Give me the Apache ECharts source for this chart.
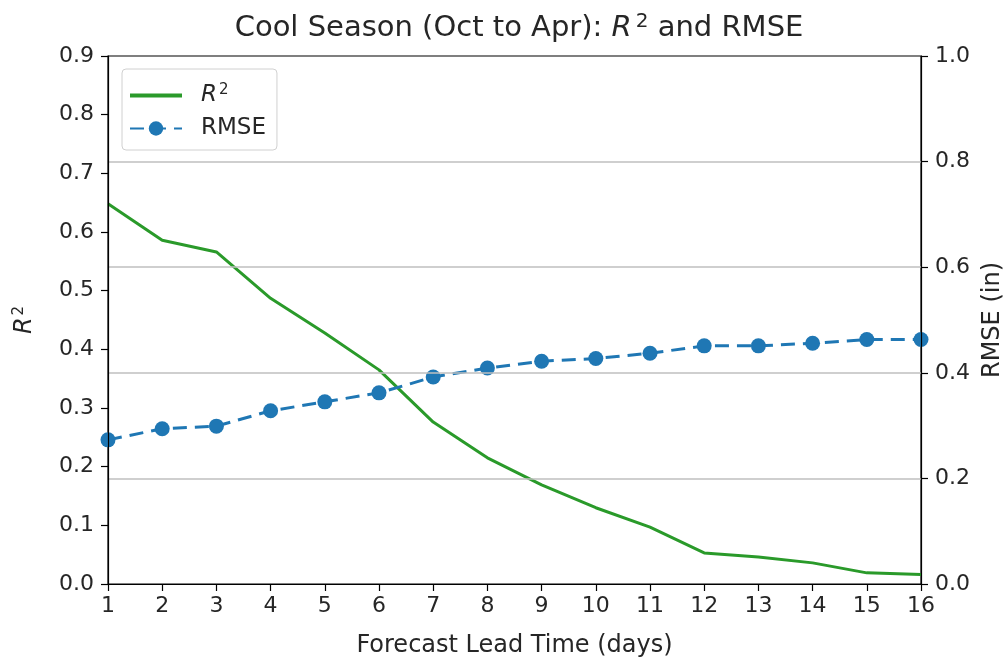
<!DOCTYPE html>
<html>
<head>
<meta charset="utf-8">
<script src="https://cdn.jsdelivr.net/npm/echarts@6/dist/echarts.min.js"></script>
<style>
  html, body { margin: 0; padding: 0; background: #fff; }
  #chart { width: 1005px; height: 660px; }
</style>
</head>
<body>
<div id="chart"></div>
<script>
// lead time in days
const leadDays = [1, 2, 3, 4, 5, 6, 7, 8, 9, 10, 11, 12, 13, 14, 15, 16];
// R^2 per lead day (left axis)
const r2Values = [0.648, 0.586, 0.566, 0.487, 0.428, 0.365, 0.276, 0.215, 0.169, 0.130, 0.097, 0.053, 0.046, 0.036, 0.019, 0.016];
// RMSE in inches per lead day (right axis)
const rmseValues = [0.273, 0.294, 0.299, 0.328, 0.345, 0.362, 0.392, 0.409, 0.422, 0.427, 0.437, 0.451, 0.451, 0.456, 0.463, 0.463];

const font = 'DejaVu Sans';
const axisColor = '#000';
const textColor = '#262626';
const tickSize = 22;
const labelSize = 24;

const chart = echarts.init(document.getElementById('chart'));

const pairs = (ys) => leadDays.map((d, i) => [d, ys[i]]);

const spine = { show: true, lineStyle: { color: axisColor, width: 1.2 } };
const ticks = { show: true, length: 7, lineStyle: { color: axisColor, width: 1.2 } };

chart.setOption({
	animation: false,
	textStyle: { fontFamily: font },
	title: {
		left: 514,
		top: 7,
		textAlign: 'center',
		text: '{a|Cool Season (Oct to Apr): }{i|R}{s|2}{a| and RMSE}',
		textStyle: {
			fontWeight: 'normal',
			rich: {
				a: { fontFamily: font, fontSize: 29, color: textColor },
				i: { fontFamily: font, fontSize: 29, fontStyle: 'italic', color: textColor },
				s: { fontFamily: font, fontSize: 20, color: textColor, verticalAlign: 'top', padding: [0, 0, 12, 4] }
			}
		}
	},
	legend: {
		orient: 'vertical',
		left: 122,
		top: 69,
		padding: [14, 11, 10, 6],
		itemWidth: 52,
		itemHeight: 18,
		itemGap: 10,
		borderColor: '#d0d0d0',
		borderWidth: 1,
		borderRadius: 4,
		backgroundColor: 'rgba(255,255,255,0.8)',
		data: [
			{ name: 'R2', itemStyle: { opacity: 0 }, lineStyle: { width: 4 } },
			{ name: 'RMSE' }
		],
		formatter: name => name === 'R2' ? '{i|R}{s|2}' : '{a|RMSE}',
		textStyle: {
			padding: [0, 0, 0, 14],
			rich: {
				a: { fontFamily: font, fontSize: 23, color: textColor },
				i: { fontFamily: font, fontSize: 23, fontStyle: 'italic', color: textColor },
				s: { fontFamily: font, fontSize: 15, color: textColor, verticalAlign: 'top', padding: [0, 0, 10, 2] }
			}
		}
	},
	grid: {
		left: 108,
		right: 84,
		top: 56,
		bottom: 76,
		outerBoundsMode: 'none',
		containLabel: false,
		show: true,
		borderColor: axisColor,
		borderWidth: 1.2,
		backgroundColor: 'transparent'
	},
	xAxis: [{
		type: 'value',
		min: 1,
		max: 16,
		interval: 1,
		name: 'Forecast Lead Time (days)',
		nameLocation: 'middle',
		nameGap: 50,
		nameTextStyle: { fontFamily: font, fontSize: labelSize, color: textColor },
		axisLine: spine,
		axisTick: ticks,
		axisLabel: { fontFamily: font, fontSize: tickSize, color: textColor, margin: 11 },
		splitLine: { show: false },
		z: 5
	}, {
		// top spine
		type: 'value',
		position: 'top',
		min: 1,
		max: 16,
		axisLine: spine,
		axisTick: { show: false },
		axisLabel: { show: false },
		splitLine: { show: false },
		z: 5
	}],
	yAxis: [{
		type: 'value',
		min: 0,
		max: 0.9,
		interval: 0.1,
		name: '{i|R}{s|2}',
		nameLocation: 'middle',
		nameGap: 71,
		nameRotate: 90,
		nameTextStyle: {
			rich: {
				i: { fontFamily: font, fontSize: labelSize, fontStyle: 'italic', color: textColor },
				s: { fontFamily: font, fontSize: 15, color: textColor, verticalAlign: 'top', padding: [0, 0, 10, 2] }
			}
		},
		axisLine: spine,
		axisTick: ticks,
		axisLabel: { fontFamily: font, fontSize: tickSize, color: textColor, margin: 14, formatter: v => v.toFixed(1) },
		splitLine: { show: false },
		z: 5
	}, {
		type: 'value',
		min: 0,
		max: 1.0,
		interval: 0.2,
		position: 'right',
		name: 'RMSE (in)',
		nameLocation: 'middle',
		nameGap: 59,
		nameRotate: 90,
		nameTextStyle: { fontFamily: font, fontSize: labelSize, color: textColor },
		axisLine: spine,
		axisTick: ticks,
		axisLabel: { fontFamily: font, fontSize: tickSize, color: textColor, margin: 14, formatter: v => v.toFixed(1) },
		splitLine: { show: true, showMinLine: false, showMaxLine: false, lineStyle: { color: '#bfbfbf', width: 1.5 } },
		z: 5
	}],
	series: [{
		name: 'R2',
		type: 'line',
		yAxisIndex: 0,
		data: pairs(r2Values),
		showSymbol: false,
		symbol: 'none',
		color: '#2a9a2a',
		lineStyle: { color: '#2a9a2a', width: 3 },
		z: 3
	}, {
		name: 'RMSE',
		type: 'line',
		yAxisIndex: 1,
		data: pairs(rmseValues),
		symbol: 'circle',
		symbolSize: 15,
		color: '#1f77b4',
		itemStyle: { color: '#1f77b4' },
		lineStyle: { color: '#1f77b4', width: 3, type: [14, 8] },
		z: 4
	}]
});

window.addEventListener('resize', () => chart.resize());
</script>
</body>
</html>
